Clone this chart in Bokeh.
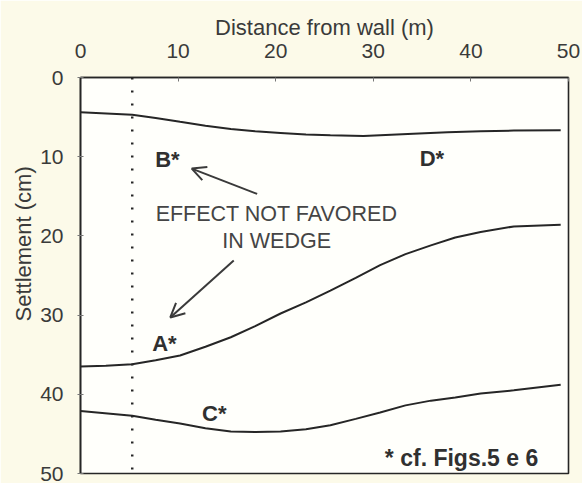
from bokeh.plotting import figure
from bokeh.models import Range1d, Arrow, OpenHead, Label, Span, Title
from bokeh.embed import file_html
from bokeh.resources import INLINE

# ---- data ----
distance_D = [0, 5.3, 7.7, 10.2, 12.8, 15.4, 17.9, 20.5, 23.1, 25.6, 29.0, 34.1, 37.6, 41.0, 44.4, 49.2]
settle_D = [4.4, 4.7, 5.1, 5.6, 6.1, 6.5, 6.8, 7.0, 7.2, 7.3, 7.4, 7.1, 6.9, 6.8, 6.7, 6.65]

distance_A = [0, 2.6, 5.3, 7.7, 10.2, 12.8, 15.4, 17.9, 20.5, 23.1, 25.6, 28.2, 30.7, 33.3,
              35.9, 38.4, 41.0, 44.4, 49.2]
settle_A = [36.5, 36.4, 36.2, 35.7, 35.1, 34.0, 32.8, 31.4, 29.8, 28.4, 26.9, 25.3, 23.7, 22.3,
            21.2, 20.2, 19.5, 18.8, 18.6]

distance_C = [0, 5.3, 7.7, 10.2, 12.8, 15.4, 17.9, 20.5, 23.1, 25.6, 28.2, 30.7, 33.3, 35.9,
              38.4, 41.0, 44.4, 49.2]
settle_C = [42.1, 42.7, 43.2, 43.7, 44.3, 44.7, 44.75, 44.7, 44.4, 43.9, 43.1, 42.3, 41.4, 40.8,
            40.4, 39.9, 39.5, 38.8]

wall_offset = 5.3
x_ticks = [0, 10, 20, 30, 40, 50]
y_ticks = [0, 10, 20, 30, 40, 50]

FONT = "Liberation Sans"
INK = "#262626"
TXT = "#3a3a3a"

p = figure(width=582, height=483,
           x_range=Range1d(0, 50), y_range=Range1d(50, 0),
           x_axis_location="above",
           output_backend="svg", toolbar_location=None,
           min_border_left=80, min_border_right=14,
           min_border_top=77, min_border_bottom=10)

p.background_fill_color = "#fffffb"
p.border_fill_color = "#fcfae9"
p.outline_line_color = INK
p.outline_line_width = 1.6
p.xgrid.visible = False
p.ygrid.visible = False

for ax in (p.xaxis[0], p.yaxis[0]):
    ax.axis_line_color = INK
    ax.axis_line_width = 1.6
    ax.major_tick_line_color = "#777777"
    ax.minor_tick_line_color = None
    ax.major_label_text_font = FONT
    ax.major_label_text_font_size = "21px"
    ax.major_label_text_color = TXT

p.xaxis.ticker = x_ticks
p.xaxis.major_tick_in = 4
p.xaxis.major_tick_out = 0
p.xaxis.major_label_standoff = 20
p.xaxis.axis_label = "Distance from wall (m)"
p.xaxis.axis_label_text_font = FONT
p.xaxis.axis_label_text_font_size = "22px"
p.xaxis.axis_label_text_font_style = "normal"
p.xaxis.axis_label_text_color = TXT
p.xaxis.axis_label_standoff = 1

p.yaxis.ticker = y_ticks
p.yaxis.major_tick_in = 3
p.yaxis.major_tick_out = 3
p.yaxis.major_label_standoff = 14

# y axis title, placed like the reference (above frame centre)
p.add_layout(Title(text="Settlement (cm)", align="left", offset=152, standoff=4,
                   text_font=FONT, text_font_size="22px", text_font_style="normal",
                   text_color=TXT), "left")

# curves
for xs, ys in ((distance_D, settle_D), (distance_A, settle_A), (distance_C, settle_C)):
    p.line(xs, ys, line_color=INK, line_width=2)

# dotted wall line
p.add_layout(Span(location=wall_offset, dimension="height", line_color=INK,
                  line_width=2.5, line_dash="2 11"))

# curve labels
for txt, x, y in (("B*", 8.9, 10.4), ("D*", 36.0, 10.2), ("A*", 8.6, 33.6), ("C*", 13.7, 42.4)):
    p.add_layout(Label(x=x, y=y, text=txt, text_align="center", text_baseline="middle",
                       text_font=FONT, text_font_size="22px", text_font_style="bold",
                       text_color="#303030"))

p.add_layout(Label(x=20.1, y=17.2, text="EFFECT NOT FAVORED", text_align="center",
                   text_baseline="middle", text_font=FONT, text_font_size="21.5px",
                   text_color="#454545"))
p.add_layout(Label(x=20.1, y=20.6, text="IN WEDGE", text_align="center",
                   text_baseline="middle", text_font=FONT, text_font_size="21.5px",
                   text_color="#454545"))

p.add_layout(Label(x=46.9, y=48.0, text="* cf. Figs.5 e 6", text_align="right",
                   text_baseline="middle", text_font=FONT, text_font_size="23px",
                   text_font_style="bold", text_color="#303030"))

# arrows
for xs, ys, xe, ye in ((18.1, 14.7, 11.4, 11.5), (15.7, 23.1, 9.2, 30.3)):
    p.add_layout(Arrow(end=OpenHead(size=14, line_width=2, line_color="#3a3a3a"),
                       x_start=xs, y_start=ys, x_end=xe, y_end=ye,
                       line_width=2, line_color="#3a3a3a"))

open("out.html", "w").write(file_html(p, INLINE))
